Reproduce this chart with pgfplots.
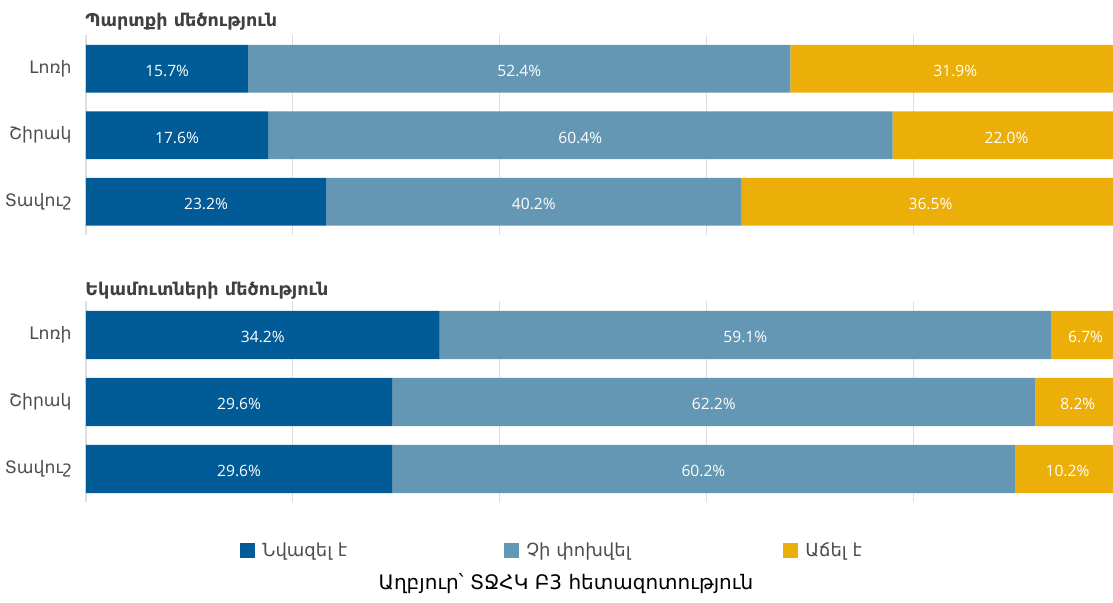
\documentclass[border=0pt]{standalone}
\usepackage{fontspec}
\setmainfont{DejaVu Sans}
\newfontfamily\numfont{Open Sans}
\usepackage{pgfplots}
\usepackage{pgfplotstable}
\pgfplotsset{compat=1.18}

\definecolor{dec}{RGB}{0,91,150}
\definecolor{same}{RGB}{100,151,180}
\definecolor{inc}{RGB}{236,174,8}
\definecolor{labgray}{RGB}{77,77,77}
\definecolor{titgray}{RGB}{64,64,64}

% a = decreased, b = unchanged, c = increased (%)
\pgfplotstableread{
id a b c
0 15.7 52.4 31.9
1 17.6 60.4 22.0
2 23.2 40.2 36.5
}\debt
\pgfplotstableread{
id a b c
0 34.2 59.1 6.7
1 29.6 62.2 8.2
2 29.6 60.2 10.2
}\income

\pgfplotsset{
  frame/.style={
    scale only axis, width=513.5pt, anchor=north west,
    xmin=0, xmax=99.3, ymin=-0.5, ymax=2.5, y dir=reverse,
    axis line style={draw=none}, major tick length=0pt,
  },
  panel/.style={
    frame, xbar stacked, bar width=0.72,
    xtick={0,20,40,60,80}, xticklabels={},
    xmajorgrids, grid style={color=black!13, line width=0.6pt},
    ytick={0,1,2}, yticklabels={Լոռի,Շիրակ,Տավուշ},
    yticklabel style={anchor=east, inner sep=0pt, xshift=-7pt,
      font=\fontsize{8.6}{10}\selectfont, text=labgray},
  },
  labels/.style={
    frame, xtick=\empty, ytick=\empty,
    /pgf/number format/assume math mode=true,
    every node near coord/.append style={anchor=center, text=white, yshift=-1.2pt,
      font=\numfont\fontsize{7.8}{9}\selectfont},
    nodes near coords={\pgfmathprintnumber[fixed,fixed zerofill,precision=1]{\pgfplotspointmeta}\%},
  },
}

\begin{document}
\begin{tikzpicture}
\fill[white] (0,0) rectangle (556.5pt,301.5pt);
\useasboundingbox (0,0) rectangle (556.5pt,301.5pt);

% top panel
\begin{axis}[panel, at={(43pt,283.75pt)}, height=99.75pt]
\addplot[fill=dec, draw=none] table[x=a, y=id] {\debt};
\addplot[fill=same, draw=none] table[x=b, y=id] {\debt};
\addplot[fill=inc, draw=none] table[x=c, y=id] {\debt};
\end{axis}
\begin{axis}[labels, at={(43pt,283.75pt)}, height=99.75pt]
\addplot[draw=none, point meta=explicit] table[x expr=\thisrow{a}/2, y=id, meta=a] {\debt};
\addplot[draw=none, point meta=explicit] table[x expr=\thisrow{a}+\thisrow{b}/2, y=id, meta=b] {\debt};
\addplot[draw=none, point meta=explicit] table[x expr=\thisrow{a}+\thisrow{b}+\thisrow{c}/2, y=id, meta=c] {\debt};
\end{axis}

% bottom panel
\begin{axis}[panel, at={(43pt,150.75pt)}, height=100.5pt]
\addplot[fill=dec, draw=none] table[x=a, y=id] {\income};
\addplot[fill=same, draw=none] table[x=b, y=id] {\income};
\addplot[fill=inc, draw=none] table[x=c, y=id] {\income};
\end{axis}
\begin{axis}[labels, at={(43pt,150.75pt)}, height=100.5pt]
\addplot[draw=none, point meta=explicit] table[x expr=\thisrow{a}/2, y=id, meta=a] {\income};
\addplot[draw=none, point meta=explicit] table[x expr=\thisrow{a}+\thisrow{b}/2, y=id, meta=b] {\income};
\addplot[draw=none, point meta=explicit] table[x expr=\thisrow{a}+\thisrow{b}+\thisrow{c}/2, y=id, meta=c] {\income};
\end{axis}

% panel titles
\node[anchor=base west, inner sep=0pt, text=titgray, font=\bfseries\fontsize{8.8}{10}\selectfont]
  at (42.5pt,288pt) {Պարտքի մեծություն};
\node[anchor=base west, inner sep=0pt, text=titgray, font=\bfseries\fontsize{8.8}{10}\selectfont]
  at (42.5pt,153.5pt) {Եկամուտների մեծություն};

% legend
\foreach \c/\x/\t in {dec/120pt/Նվազել է, same/252pt/Չի փոխվել, inc/391.5pt/Աճել է}{
  \node[fill=\c, minimum size=7.5pt, inner sep=0pt, anchor=south west] at (\x,22.5pt) {};
  \node[anchor=base west, inner sep=0pt, text=labgray, font=\fontsize{9}{11}\selectfont]
    at ([xshift=11pt]\x,23pt) {\t};
}

% source
\node[anchor=base, inner sep=0pt, font=\fontsize{10}{12}\selectfont] at (283pt,6.5pt)
  {Աղբյուր՝ ՏՋՀԿ Բ3 հետազոտություն};
\end{tikzpicture}
\end{document}
